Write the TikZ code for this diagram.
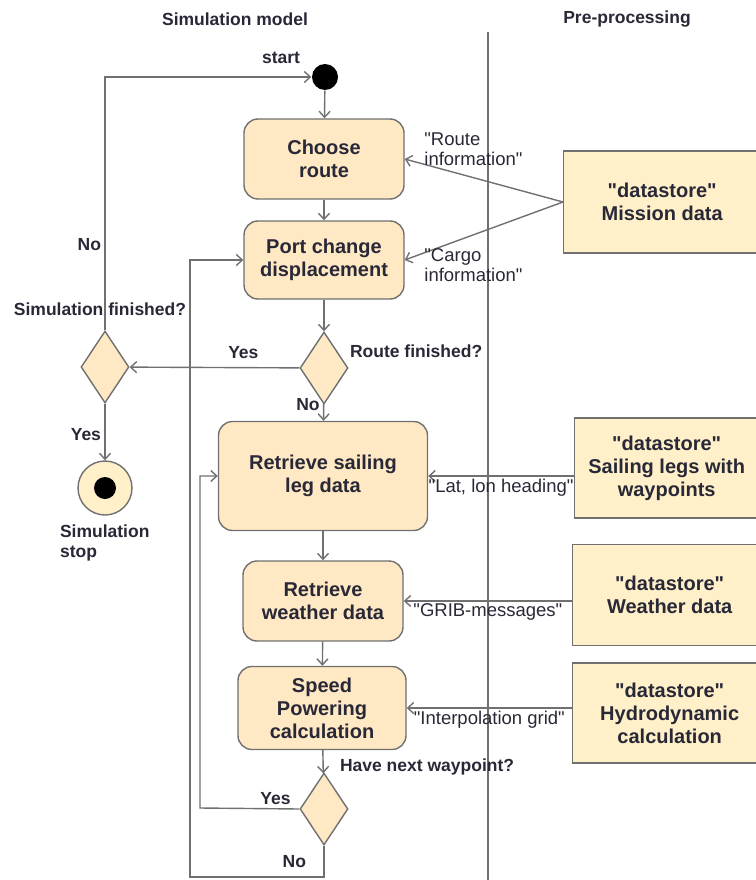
\documentclass[tikz,border=0pt]{standalone}
\usepackage{fontspec}
\setmainfont{Liberation Sans}[Ligatures=TeXOff]
\usetikzlibrary{shapes.geometric,arrows.meta}

\definecolor{actfill}{RGB}{255,232,196}
\definecolor{storefill}{RGB}{255,240,202}
\definecolor{linegray}{RGB}{112,112,112}
\definecolor{textdark}{RGB}{40,40,55}

\tikzset{every path/.style={line width=1.4pt}}
\tikzset{
  activity/.style={draw=linegray, fill=actfill, rounded corners=14pt, align=center,
    inner sep=0pt, text=textdark, font=\bfseries\fontsize{20}{23}\selectfont},
  store/.style={draw=linegray, fill=storefill, align=center, inner sep=0pt,
    text=textdark, font=\bfseries\fontsize{20}{23}\selectfont},
  decision/.style={diamond, draw=linegray, fill=actfill, inner sep=0pt,
    minimum width=48pt, minimum height=72pt},
  flow/.style={draw=linegray, -{Straight Barb[length=6pt,width=11pt]}},
  lbl/.style={text=textdark, font=\bfseries\fontsize{17.5}{20}\selectfont},
  msg/.style={text=textdark, align=left, inner sep=2pt, font=\fontsize{18.5}{20}\selectfont}
}

\begin{document}
\begin{tikzpicture}[x=1pt,y=-1pt]
\useasboundingbox (0,0) rectangle (755,880);

% swimlanes
\node[lbl] (laneSim) at (235,19) {Simulation model};
\node[lbl] (lanePre) at (627,19) {Pre-processing};
\coordinate (laneTop) at (488,32);
\coordinate (laneBot) at (488,880);
\draw[linegray, line width=1.2pt] (laneTop) -- (laneBot);

% simulation model
\node[circle, fill=black, minimum size=26pt, inner sep=0pt] (start) at (325,77) {};
\node[lbl] (startLbl) at (281,58) {start};
\node[activity, minimum width=160pt, minimum height=80pt] (route) at (324,159) {Choose\\route};
\node[activity, minimum width=160pt, minimum height=78pt] (port) at (324,260) {Port change\\displacement};
\node[decision] (routeQ) at (324,368) {};
\node[lbl, anchor=west] (routeQLbl) at (346,351) {Route finished?};
\node[activity, minimum width=209pt, minimum height=109pt] (legs) at (323,476) {Retrieve sailing\\leg data};
\node[activity, minimum width=160pt, minimum height=80pt] (weather) at (323,601) {Retrieve\\weather data};
\node[activity, minimum width=168pt, minimum height=83pt] (speed) at (322,708) {Speed\\Powering\\calculation};
\node[decision] (nextQ) at (324,809) {};
\node[lbl, anchor=west] (nextQLbl) at (336,767) {Have next waypoint?};

\node[decision] (simQ) at (105,367) {};
\node[lbl] (simQLbl) at (100,309) {Simulation finished?};
\node[circle, draw=linegray, fill=storefill, minimum size=54pt, inner sep=0pt] (stop) at (105,488) {};
\fill[black] (stop.center) circle[radius=11];
\node[lbl, align=left, anchor=north west] (stopLbl) at (56,521) {Simulation\\stop};

% pre-processing
\node[store, anchor=west, minimum width=197pt, minimum height=102pt] (mission) at (563,202) {"datastore"\\Mission data};
\node[store, anchor=west, minimum width=184pt, minimum height=100pt] (sailStore) at (574,468) {"datastore"\\Sailing legs with\\waypoints};
\node[store, anchor=west, minimum width=194pt, minimum height=101pt] (weatherStore) at (572,595) {"datastore"\\Weather data};
\node[store, anchor=west, minimum width=194pt, minimum height=100pt] (hydroStore) at (572,713) {"datastore"\\Hydrodynamic\\calculation};

% control flow
\coordinate (yesBend) at (200,808);
\coordinate (noCorner) at (190,877);
\draw[flow] (start) -- (route);
\draw[flow] (route) -- (port);
\draw[flow] (port) -- (routeQ);
\draw[flow] (routeQ) -- node[lbl, anchor=east, pos=0] {No} (legs);
\draw[flow] (routeQ) -- node[lbl, above=5pt, pos=0.33] {Yes} (simQ);
\draw[flow] (simQ.north) |- node[lbl, left, pos=0.17] {No} (start);
\draw[flow] (simQ) -- node[lbl, left, pos=0.55] {Yes} (stop);
\draw[flow] (legs) -- (weather);
\draw[flow] (weather) -- (speed);
\draw[flow] (speed) -- (nextQ);
\draw[flow] (nextQ.west) -- node[lbl, above, pos=0.24] {Yes} (yesBend) |- (legs.west);
\draw[flow] (nextQ.south) |- node[lbl, left=14pt, pos=0.25] {No} (noCorner) |- (port.west);

% object flow
\draw[flow] (mission.west) -- node[msg, pos=1, anchor=south west, xshift=17pt, yshift=-9pt] {"Route\\information"} (route.east);
\draw[flow] (mission.west) -- node[msg, pos=1, anchor=north west, xshift=17pt, yshift=14pt] {"Cargo\\information"} (port.east);
\draw[flow] (sailStore.west |- legs.east) -- node[msg, below] {"Lat, lon heading"} (legs.east);
\draw[flow] (weatherStore.west |- weather.east) -- node[msg, below] {"GRIB-messages"} (weather.east);
\draw[flow] (hydroStore.west |- speed.east) -- node[msg, below] {"Interpolation grid"} (speed.east);

\end{tikzpicture}
\end{document}
